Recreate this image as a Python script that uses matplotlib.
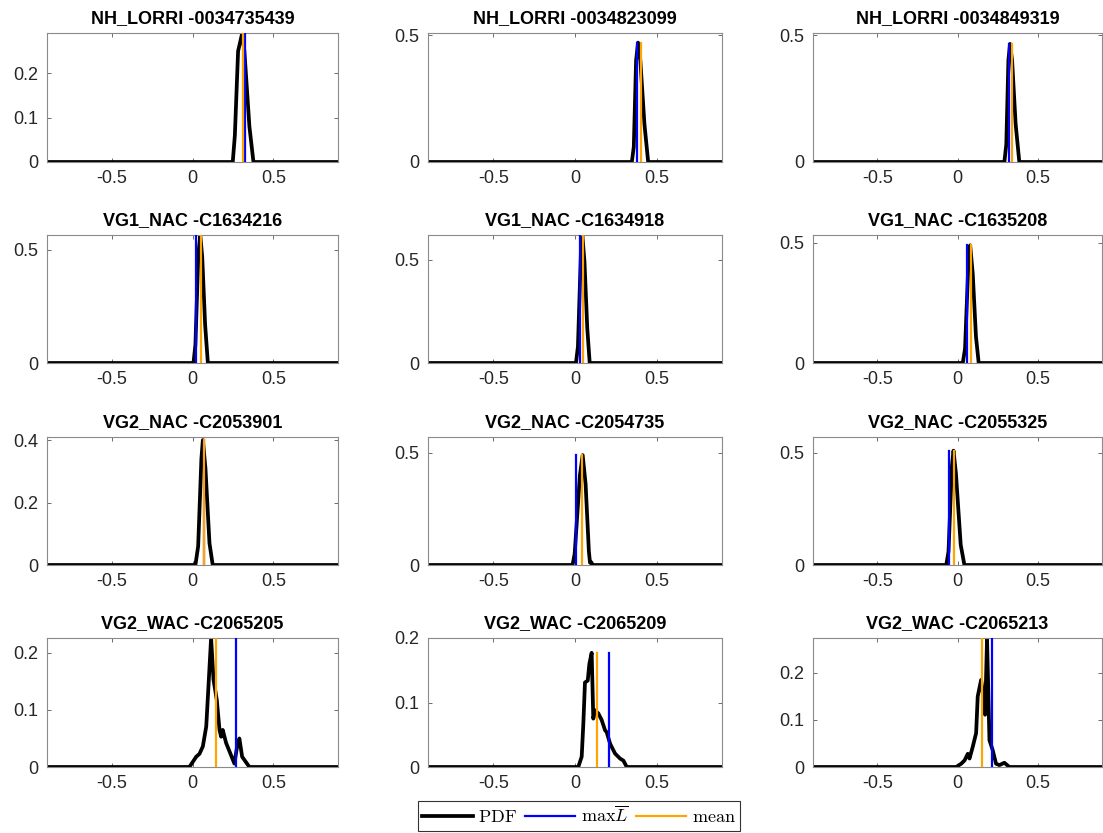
import matplotlib
matplotlib.use("Agg")
import matplotlib.pyplot as plt
from matplotlib.ticker import FuncFormatter

plt.rcParams['font.family'] = ['Liberation Sans', 'DejaVu Sans']
plt.rcParams['mathtext.fontset'] = 'cm'

titles = [
    "NH_LORRI -0034735439", "NH_LORRI -0034823099", "NH_LORRI -0034849319",
    "VG1_NAC -C1634216", "VG1_NAC -C1634918", "VG1_NAC -C1635208",
    "VG2_NAC -C2053901", "VG2_NAC -C2054735", "VG2_NAC -C2055325",
    "VG2_WAC -C2065205", "VG2_WAC -C2065209", "VG2_WAC -C2065213",
]

# PDF curves (x, y) per panel
p1_x = [-0.9, 0.249, 0.262, 0.282, 0.307, 0.321, 0.352, 0.377, 0.9]
p1_y = [0, 0, 0.06, 0.25, 0.29, 0.25, 0.08, 0, 0]
p2_x = [-0.9, 0.348, 0.36, 0.374, 0.386, 0.40, 0.425, 0.448, 0.9]
p2_y = [0, 0, 0.06, 0.40, 0.47, 0.40, 0.15, 0, 0]
p3_x = [-0.9, 0.292, 0.304, 0.317, 0.327, 0.34, 0.362, 0.385, 0.9]
p3_y = [0, 0, 0.07, 0.40, 0.465, 0.40, 0.15, 0, 0]
p4_x = [-0.9, 0.006, 0.018, 0.036, 0.048, 0.06, 0.078, 0.095, 0.9]
p4_y = [0, 0, 0.08, 0.48, 0.565, 0.47, 0.17, 0, 0]
p5_x = [-0.9, 0.006, 0.018, 0.036, 0.045, 0.058, 0.075, 0.09, 0.9]
p5_y = [0, 0, 0.08, 0.53, 0.62, 0.49, 0.17, 0, 0]
p6_x = [-0.9, 0.033, 0.047, 0.068, 0.079, 0.095, 0.115, 0.132, 0.9]
p6_y = [0, 0, 0.06, 0.42, 0.49, 0.37, 0.11, 0, 0]
p7_x = [-0.9, 0.018, 0.035, 0.055, 0.064, 0.08, 0.105, 0.125, 0.9]
p7_y = [0, 0, 0.06, 0.34, 0.40, 0.31, 0.07, 0, 0]
p8_x = [-0.9, -0.015, -0.002, 0.03, 0.047, 0.065, 0.085, 0.092, 0.1, 0.108, 0.9]
p8_y = [0, 0, 0.05, 0.40, 0.49, 0.36, 0.06, 0.01, 0.012, 0, 0]
p9_x = [-0.9, -0.07, -0.056, -0.035, -0.025, -0.01, 0.02, 0.043, 0.9]
p9_y = [0, 0, 0.06, 0.44, 0.51, 0.41, 0.09, 0, 0]
p10_x = [-0.9, -0.019, 0.023, 0.043, 0.064, 0.085, 0.101, 0.115, 0.130, 0.150,
         0.167, 0.177, 0.187, 0.208, 0.228, 0.259, 0.276, 0.290, 0.307, 0.327, 0.352, 0.9]
p10_y = [0, 0, 0.018, 0.023, 0.036, 0.071, 0.153, 0.226, 0.153, 0.118,
         0.065, 0.053, 0.065, 0.042, 0.028, 0.006, 0.036, 0.05, 0.018, 0.01, 0, 0]
p11_x = [-0.9, 0.02, 0.041, 0.051, 0.061, 0.078, 0.088, 0.102, 0.112, 0.122, 0.143,
         0.163, 0.184, 0.194, 0.215, 0.245, 0.276, 0.296, 0.317, 0.9]
p11_y = [0, 0, 0.016, 0.067, 0.131, 0.134, 0.16, 0.177, 0.075, 0.088, 0.083,
         0.073, 0.057, 0.054, 0.036, 0.021, 0.013, 0.01, 0, 0]
p12_x = [-0.9, -0.008, 0.023, 0.044, 0.064, 0.075, 0.095, 0.116, 0.126, 0.147, 0.161,
         0.172, 0.184, 0.199, 0.219, 0.240, 0.261, 0.292, 0.323, 0.9]
p12_y = [0, 0, 0.007, 0.014, 0.028, 0.018, 0.043, 0.072, 0.15, 0.185, 0.15,
         0.111, 0.274, 0.057, 0.036, 0.007, 0.004, 0.009, 0, 0]

pdf_x = [p1_x, p2_x, p3_x, p4_x, p5_x, p6_x, p7_x, p8_x, p9_x, p10_x, p11_x, p12_x]
pdf_y = [p1_y, p2_y, p3_y, p4_y, p5_y, p6_y, p7_y, p8_y, p9_y, p10_y, p11_y, p12_y]

max_L = [0.322, 0.378, 0.319, 0.023, 0.031, 0.058, 0.070, 0.006, -0.054, 0.272, 0.209, 0.217]
mean_v = [0.310, 0.405, 0.337, 0.054, 0.051, 0.083, 0.074, 0.041, -0.019, 0.148, 0.135, 0.155]

y_top = [0.291, 0.508, 0.508, 0.566, 0.62, 0.533, 0.41, 0.571, 0.571, 0.226, 0.20, 0.274]
y_ticks = [[0, 0.1, 0.2], [0, 0.5], [0, 0.5],
           [0, 0.5], [0, 0.5], [0, 0.5],
           [0, 0.2, 0.4], [0, 0.5], [0, 0.5],
           [0, 0.1, 0.2], [0, 0.1, 0.2], [0, 0.1, 0.2]]
x_ticks = [-0.5, 0, 0.5]

W, H = 1103, 833
fig = plt.figure(figsize=(W / 100, H / 100), dpi=100)

col_px = [(47, 338), (428, 722), (813, 1102)]
row_px = [(33, 162), (235, 363), (437, 565), (638, 767)]

fmt = FuncFormatter(lambda v, p: ("%g" % v))

for i in range(12):
    r, c = divmod(i, 3)
    l, rr = col_px[c]
    t, b = row_px[r]
    ax = fig.add_axes([l / W, 1 - b / H, (rr - l) / W, (b - t) / H])
    xs, ys = pdf_x[i], pdf_y[i]
    h = max(ys)
    ax.plot(xs, ys, color='black', lw=2.7, solid_joinstyle='round', zorder=2)
    ax.plot([max_L[i], max_L[i]], [0, h], color='#0000FF', lw=1.6, zorder=3)
    ax.plot([mean_v[i], mean_v[i]], [0, h], color='#FFA500', lw=1.6, zorder=4)
    ax.set_xlim(-0.9, 0.9)
    ax.set_ylim(0, y_top[i])
    ax.set_xticks(x_ticks)
    ax.set_yticks(y_ticks[i])
    ax.xaxis.set_major_formatter(fmt)
    ax.yaxis.set_major_formatter(fmt)
    ax.tick_params(direction='in', length=3, width=0.6, color='#555555',
                   labelsize=13, labelcolor='#262626', top=True, right=True, pad=6)
    for s in ax.spines.values():
        s.set_color('#8a8a8a')
        s.set_linewidth(0.8)
    ax.set_title(titles[i], fontsize=13, fontweight='bold', pad=7, color='black')

handles = [
    plt.Line2D([], [], color='black', lw=2.7),
    plt.Line2D([], [], color='#0000FF', lw=1.6),
    plt.Line2D([], [], color='#FFA500', lw=1.6),
]
labels = [r'$\mathrm{PDF}$', r'$\max\overline{L}$', r'$\mathrm{mean}$']
leg = fig.legend(handles, labels, loc='center', bbox_to_anchor=(579 / W, 1 - 816 / H),
                 ncol=3, frameon=True, fancybox=False, edgecolor='black', fontsize=13,
                 handlelength=2.8, handletextpad=0.3, columnspacing=0.4,
                 borderpad=0.25, borderaxespad=0)
leg.get_frame().set_linewidth(0.8)

fig.savefig("out.png", dpi=100)
